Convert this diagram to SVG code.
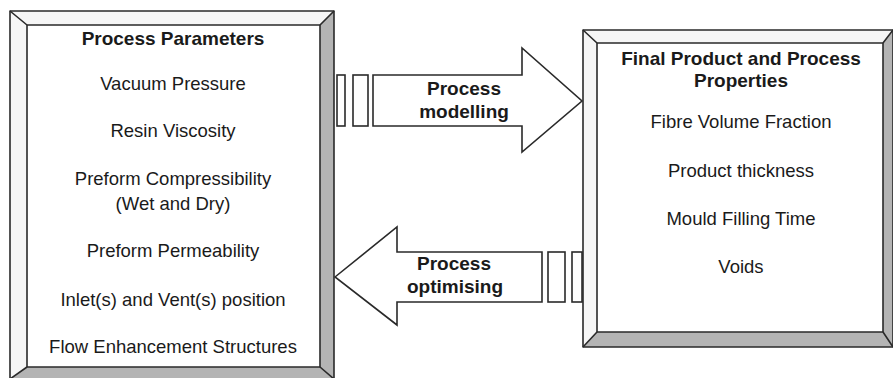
<svg xmlns="http://www.w3.org/2000/svg" width="893" height="378" viewBox="0 0 893 378">
<style>
.t{font-family:"Liberation Sans",Arial,sans-serif;font-size:18.5px;fill:#1a1a1a;text-anchor:middle}
.b{font-weight:bold;font-size:19px}
.ln{fill:none;stroke:#2a2a2a;stroke-width:1.6;stroke-linejoin:round}
.lt{fill:#f6f6f6}
.dk{fill:#b4b4b4}
.ar{fill:#ffffff;stroke:#2a2a2a;stroke-width:1.6;stroke-linejoin:miter}
</style>
<rect width="893" height="378" fill="#ffffff"/>
<g id="connectors">
  <g id="arrow-modelling">
    <rect class="ar" x="337" y="75" width="8" height="51"/>
    <rect class="ar" x="353" y="75" width="15" height="51"/>
    <polygon class="ar" points="373,75 522,75 522,48 582,101 522,152 522,126 373,126"/>
    <text class="t b" x="464" y="95">Process</text>
    <text class="t b" x="464" y="118">modelling</text>
  </g>
  <g id="arrow-optimising">
    <rect class="ar" x="548" y="252" width="17" height="50"/>
    <rect class="ar" x="572" y="252" width="10" height="50"/>
    <polygon class="ar" points="335,277 397,227 397,252 542,252 542,302 397,302 397,325"/>
    <text class="t b" x="454" y="270">Process</text>
    <text class="t b" x="455" y="293">optimising</text>
  </g>
</g>
<g id="process-parameters">
  <polygon class="lt" points="10,11 334,11 320,25 27,25"/>
  <polygon class="lt" points="10,11 27,25 27,367 10,379"/>
  <polygon class="dk" points="334,11 334,379 320,367 320,25"/>
  <polygon class="dk" points="10,379 27,367 320,367 334,379"/>
  <rect x="27" y="25" width="293" height="342" fill="#ffffff"/>
  <polygon class="ln" points="10,11 334,11 334,379 10,379"/>
  <rect class="ln" x="27" y="25" width="293" height="342"/>
  <path class="ln" d="M10,11 L27,25 M334,11 L320,25 M334,379 L320,367 M10,379 L27,367"/>
  <text class="t b" x="173" y="45">Process Parameters</text>
  <text class="t" x="173" y="90">Vacuum Pressure</text>
  <text class="t" x="173" y="137">Resin Viscosity</text>
  <text class="t" x="173" y="185">Preform Compressibility</text>
  <text class="t" x="173" y="210">(Wet and Dry)</text>
  <text class="t" x="173" y="257">Preform Permeability</text>
  <text class="t" x="173" y="306">Inlet(s) and Vent(s) position</text>
  <text class="t" x="173" y="353">Flow Enhancement Structures</text>
</g>
<g id="final-product">
  <polygon class="lt" points="583,30 893,30 883,43 597,43"/>
  <polygon class="lt" points="583,30 597,43 597,332 583,347"/>
  <polygon class="dk" points="893,30 893,347 883,332 883,43"/>
  <polygon class="dk" points="583,347 597,332 883,332 893,347"/>
  <rect x="597" y="43" width="286" height="289" fill="#ffffff"/>
  <polygon class="ln" points="583,30 893,30 893,347 583,347"/>
  <rect class="ln" x="597" y="43" width="286" height="289"/>
  <path class="ln" d="M583,30 L597,43 M893,30 L883,43 M893,347 L883,332 M583,347 L597,332"/>
  <text class="t b" x="741" y="65">Final Product and Process</text>
  <text class="t b" x="741" y="87">Properties</text>
  <text class="t" x="741" y="128">Fibre Volume Fraction</text>
  <text class="t" x="741" y="177">Product thickness</text>
  <text class="t" x="741" y="225">Mould Filling Time</text>
  <text class="t" x="741" y="273">Voids</text>
</g>
</svg>
